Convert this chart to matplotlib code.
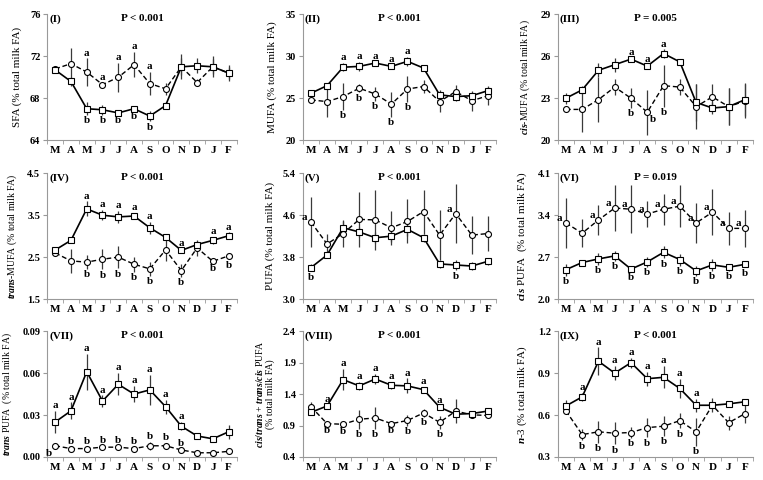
import matplotlib
matplotlib.use("Agg")
import matplotlib.pyplot as plt

plt.rcParams['font.family'] = ['Liberation Serif', 'DejaVu Serif']
plt.rcParams['font.weight'] = 'bold'
plt.rcParams['mathtext.fontset'] = 'custom'
plt.rcParams['mathtext.rm'] = 'Liberation Serif:bold'
plt.rcParams['mathtext.it'] = 'Liberation Serif:italic:bold'

months = ['M', 'A', 'M', 'J', 'J', 'A', 'S', 'O', 'N', 'D', 'J', 'F']

# (I) SFA
sfa_solid = [70.7, 69.6, 67.0, 66.9, 66.6, 67.0, 66.3, 67.3, 71.0, 71.1, 71.0, 70.4]
sfa_solid_se = [0.3, 0.4, 0.6, 0.5, 0.2, 0.2, 0.5, 0.3, 1.2, 0.7, 1.0, 0.8]
sfa_dash = [70.8, 71.3, 70.5, 69.3, 70.0, 71.2, 69.4, 68.9, 71.0, 69.5, 71.0, 70.4]
sfa_dash_se = [0.3, 1.5, 1.3, 0.2, 1.4, 1.2, 1.1, 0.6, 0.8, 0.3, 0.7, 0.6]

# (II) MUFA
mufa_solid = [25.6, 26.5, 28.7, 28.8, 29.2, 28.8, 29.4, 28.6, 25.4, 25.2, 25.3, 25.9]
mufa_solid_se = [0.3, 0.3, 0.5, 0.5, 0.2, 0.2, 0.5, 0.2, 0.6, 0.5, 0.5, 0.6]
mufa_dash = [24.8, 24.6, 25.2, 26.2, 25.5, 24.3, 26.1, 26.4, 24.6, 25.8, 24.7, 25.3]
mufa_dash_se = [0.2, 1.8, 1.6, 0.5, 0.8, 1.5, 1.5, 0.8, 1.3, 0.8, 1.2, 1.1]

# (III) cis-MUFA
cmufa_solid = [23.0, 23.6, 25.0, 25.4, 25.8, 25.3, 26.2, 25.6, 22.7, 22.3, 22.4, 22.9]
cmufa_solid_se = [0.4, 0.3, 0.5, 0.5, 0.1, 0.1, 0.3, 0.2, 1.3, 0.4, 1.3, 1.2]
cmufa_dash = [22.2, 22.2, 22.9, 23.8, 23.0, 22.0, 23.9, 23.8, 22.4, 23.1, 22.4, 22.8]
cmufa_dash_se = [0.1, 1.6, 1.6, 0.6, 0.7, 1.6, 1.5, 0.6, 1.6, 0.9, 1.3, 1.2]

# (IV) trans-MUFA
tmufa_solid = [2.67, 2.90, 3.65, 3.50, 3.46, 3.48, 3.20, 2.97, 2.66, 2.80, 2.90, 3.01]
tmufa_solid_se = [0.04, 0.05, 0.18, 0.12, 0.14, 0.07, 0.14, 0.06, 0.03, 0.08, 0.08, 0.08]
tmufa_dash = [2.60, 2.41, 2.38, 2.45, 2.50, 2.33, 2.22, 2.67, 2.18, 2.72, 2.40, 2.53]
tmufa_dash_se = [0.04, 0.29, 0.16, 0.24, 0.27, 0.18, 0.16, 0.26, 0.15, 0.20, 0.03, 0.08]

# (V) PUFA
pufa_solid = [3.60, 3.84, 4.36, 4.28, 4.17, 4.20, 4.33, 4.17, 3.67, 3.65, 3.63, 3.72]
pufa_solid_se = [0.07, 0.06, 0.12, 0.10, 0.10, 0.12, 0.12, 0.08, 0.08, 0.10, 0.08, 0.07]
pufa_dash = [4.47, 4.05, 4.25, 4.52, 4.51, 4.36, 4.48, 4.67, 4.22, 4.63, 4.22, 4.25]
pufa_dash_se = [0.48, 0.20, 0.25, 0.52, 0.57, 0.32, 0.42, 0.42, 0.47, 0.57, 0.36, 0.33]

# (VI) cis PUFA
cpufa_solid = [2.49, 2.61, 2.67, 2.72, 2.50, 2.62, 2.78, 2.66, 2.47, 2.57, 2.53, 2.58]
cpufa_solid_se = [0.10, 0.05, 0.10, 0.08, 0.04, 0.08, 0.10, 0.10, 0.08, 0.10, 0.06, 0.05]
cpufa_dash = [3.27, 3.10, 3.32, 3.52, 3.50, 3.42, 3.50, 3.55, 3.27, 3.45, 3.18, 3.18]
cpufa_dash_se = [0.42, 0.23, 0.25, 0.38, 0.40, 0.22, 0.26, 0.35, 0.34, 0.38, 0.28, 0.31]

# (VII) trans PUFA
tpufa_solid = [0.025, 0.033, 0.061, 0.040, 0.052, 0.045, 0.048, 0.036, 0.022, 0.015, 0.013, 0.018]
tpufa_solid_se = [0.008, 0.006, 0.013, 0.004, 0.008, 0.006, 0.011, 0.005, 0.003, 0.001, 0.001, 0.005]
tpufa_dash = [0.008, 0.006, 0.006, 0.007, 0.007, 0.006, 0.008, 0.008, 0.005, 0.003, 0.003, 0.004]
tpufa_dash_se = [0.001, 0.001, 0.001, 0.001, 0.001, 0.001, 0.003, 0.002, 0.001, 0.0005, 0.0005, 0.0005]

# (VIII) cis/trans + trans/cis PUFA
ctpufa_solid = [1.11, 1.21, 1.63, 1.53, 1.64, 1.54, 1.53, 1.47, 1.19, 1.08, 1.09, 1.13]
ctpufa_solid_se = [0.03, 0.02, 0.17, 0.06, 0.08, 0.06, 0.12, 0.05, 0.02, 0.03, 0.02, 0.03]
ctpufa_dash = [1.20, 0.93, 0.92, 1.00, 1.02, 0.93, 0.98, 1.10, 0.95, 1.13, 1.07, 1.06]
ctpufa_dash_se = [0.07, 0.02, 0.02, 0.15, 0.17, 0.02, 0.08, 0.06, 0.10, 0.19, 0.03, 0.04]

# (IX) n-3
n3_solid = [0.665, 0.73, 0.985, 0.90, 0.975, 0.86, 0.87, 0.79, 0.67, 0.67, 0.68, 0.695]
n3_solid_se = [0.04, 0.03, 0.10, 0.05, 0.035, 0.05, 0.08, 0.07, 0.045, 0.05, 0.02, 0.01]
n3_dash = [0.63, 0.46, 0.48, 0.47, 0.475, 0.51, 0.52, 0.56, 0.48, 0.67, 0.545, 0.61]
n3_dash_se = [0.02, 0.04, 0.08, 0.08, 0.04, 0.07, 0.07, 0.055, 0.10, 0.02, 0.05, 0.065]

panel_ids = ['(I)', '(II)', '(III)', '(IV)', '(V)', '(VI)', '(VII)', '(VIII)', '(IX)']
p_values = ['P < 0.001', 'P < 0.001', 'P = 0.005', 'P < 0.001', 'P < 0.001',
            'P = 0.019', 'P < 0.001', 'P < 0.001', 'P < 0.001']
y_labels = ['SFA (% total milk FA)', 'MUFA (% total milk FA)',
            r'$\mathit{cis}$-MUFA (% total milk FA)', r'$\mathit{trans}$-MUFA (% total milk FA)',
            'PUFA (% total milk FA)', r'$\mathit{cis}$ PUFA  (% total milk FA)',
            r'$\mathit{trans}$ PUFA  (% total milk FA)',
            r'$\mathit{cis/trans}$ + $\mathit{trans/cis}$ PUFA' + '\n(% total milk FA)',
            r'$\mathit{n}$-3 (% total milk FA)']
y_ticks = [[64, 68, 72, 76], [20, 25, 30, 35], [20, 23, 26, 29],
           [1.5, 2.5, 3.5, 4.5], [3.0, 3.8, 4.6, 5.4], [2.0, 2.7, 3.4, 4.1],
           [0.00, 0.03, 0.06, 0.09], [0.4, 0.9, 1.4, 1.9, 2.4], [0.3, 0.6, 0.9, 1.2]]
y_fmt = ['%d', '%d', '%d', '%.1f', '%.1f', '%.1f', '%.2f', '%.1f', '%.1f']
y_label_size = [8, 8, 7, 7, 8, 8, 7, 7, 8]

solid_series = [(sfa_solid, sfa_solid_se), (mufa_solid, mufa_solid_se), (cmufa_solid, cmufa_solid_se),
                (tmufa_solid, tmufa_solid_se), (pufa_solid, pufa_solid_se), (cpufa_solid, cpufa_solid_se),
                (tpufa_solid, tpufa_solid_se), (ctpufa_solid, ctpufa_solid_se), (n3_solid, n3_solid_se)]
dash_series = [(sfa_dash, sfa_dash_se), (mufa_dash, mufa_dash_se), (cmufa_dash, cmufa_dash_se),
               (tmufa_dash, tmufa_dash_se), (pufa_dash, pufa_dash_se), (cpufa_dash, cpufa_dash_se),
               (tpufa_dash, tpufa_dash_se), (ctpufa_dash, ctpufa_dash_se), (n3_dash, n3_dash_se)]

# letters: (series, letter, where, month indices)
all_idx = [0, 2, 3, 4, 5, 6, 7, 8, 9, 10, 11]
letters = [
    [('dash', 'a', 'above', [2, 3, 4, 5, 6]), ('solid', 'b', 'below', [2, 3, 4, 5, 6])],
    [('solid', 'a', 'above', [2, 3, 4, 5, 6]), ('dash', 'b', 'below', [2, 3, 4, 5, 6])],
    [('solid', 'a', 'above', [4, 5, 6]), ('dash', 'b', 'below', [4, 6]), ('dash', 'b', 'right', [5])],
    [('solid', 'a', 'above', [2, 3, 4, 5, 6, 8, 10, 11]), ('dash', 'b', 'below', [2, 3, 4, 5, 6, 8, 10, 11])],
    [('dash', 'a', 'left', [0, 9]), ('solid', 'b', 'below', [0, 9])],
    [('dash', 'a', 'left', all_idx), ('solid', 'b', 'below', all_idx)],
    [('solid', 'a', 'above', [0, 1, 2, 3, 4, 5, 6, 7, 8]), ('dash', 'b', 'above', [1, 2, 3, 4, 5, 6, 7, 8]),
     ('dash', 'b', 'belowleft', [0])],
    [('solid', 'a', 'above', [1, 2, 3, 4, 5, 6, 7, 8]), ('dash', 'b', 'below', [1, 2, 3, 4, 5, 6, 7, 8])],
    [('solid', 'a', 'above', [1, 2, 3, 4, 5, 6, 7, 8]), ('dash', 'b', 'below', [1, 2, 3, 4, 5, 6, 7, 8])],
]

col_left = [0.062, 0.397, 0.731]
col_width = [0.248, 0.253, 0.256]
row_bottom = [0.708, 0.377, 0.048]
row_height = 0.262


def draw_panel(ax, k):
    x = list(range(len(months)))
    sv, se = solid_series[k]
    dv, de = dash_series[k]
    ax.errorbar(x, dv, yerr=de, fmt='none', ecolor='#3a3a3a', elinewidth=0.9, capsize=0, zorder=1)
    ax.errorbar(x, sv, yerr=se, fmt='none', ecolor='#3a3a3a', elinewidth=0.9, capsize=0, zorder=1)
    ax.plot(x, dv, color='black', lw=1.0, ls=(0, (3.5, 2)), marker='o', ms=4.3,
            mfc='white', mec='black', mew=0.8, zorder=3)
    ax.plot(x, sv, color='black', lw=1.2, ls='-', marker='s', ms=3.8,
            mfc='white', mec='black', mew=0.8, zorder=4)

    for series, letter, where, idx in letters[k]:
        vals, errs = (sv, se) if series == 'solid' else (dv, de)
        for i in idx:
            if where == 'above':
                ax.annotate(letter, (i, vals[i] + errs[i]), xytext=(0, 0.5), textcoords='offset points',
                            ha='center', va='bottom', fontsize=8)
            elif where == 'below':
                ax.annotate(letter, (i, vals[i] - errs[i]), xytext=(0, -1), textcoords='offset points',
                            ha='center', va='top', fontsize=8)
            elif where == 'left':
                ax.annotate(letter, (i, vals[i]), xytext=(-2.5, 0), textcoords='offset points',
                            ha='right', va='bottom', fontsize=8)
            elif where == 'right':
                ax.annotate(letter, (i, vals[i]), xytext=(2, -2), textcoords='offset points',
                            ha='left', va='top', fontsize=8)
            else:
                ax.annotate(letter, (i, vals[i]), xytext=(-2, -2), textcoords='offset points',
                            ha='right', va='top', fontsize=8)

    ax.set_xlim(-0.5, len(months) - 0.5)
    ax.set_xticks(x)
    ax.set_xticklabels(months, fontsize=8)
    ax.set_xticks([i - 0.5 for i in range(len(months) + 1)], minor=True)
    ax.tick_params(axis='x', which='major', length=0, pad=4)
    ax.tick_params(axis='x', which='minor', length=3, direction='out', color='#999999')
    ticks = y_ticks[k]
    ax.set_ylim(ticks[0], ticks[-1])
    ax.set_yticks(ticks)
    ax.set_yticklabels([y_fmt[k] % t for t in ticks], fontsize=7.5)
    ax.tick_params(axis='y', length=3, direction='out', color='#999999', pad=2)
    for side in ['top', 'right']:
        ax.spines[side].set_visible(False)
    for side in ['left', 'bottom']:
        ax.spines[side].set_color('#999999')
        ax.spines[side].set_linewidth(0.8)
    ax.set_ylabel(y_labels[k], fontsize=y_label_size[k], labelpad=6, linespacing=1.0)
    ax.text(0.01, 1.0, panel_ids[k], transform=ax.transAxes, ha='left', va='top', fontsize=8)
    ax.text(0.5, 1.0, p_values[k], transform=ax.transAxes, ha='center', va='top', fontsize=8)


fig = plt.figure(figsize=(7.63, 4.8), dpi=100)
for k in range(9):
    r, c = divmod(k, 3)
    ax = fig.add_axes([col_left[c], row_bottom[r], col_width[c], row_height])
    draw_panel(ax, k)

fig.savefig('out.png', dpi=100)
